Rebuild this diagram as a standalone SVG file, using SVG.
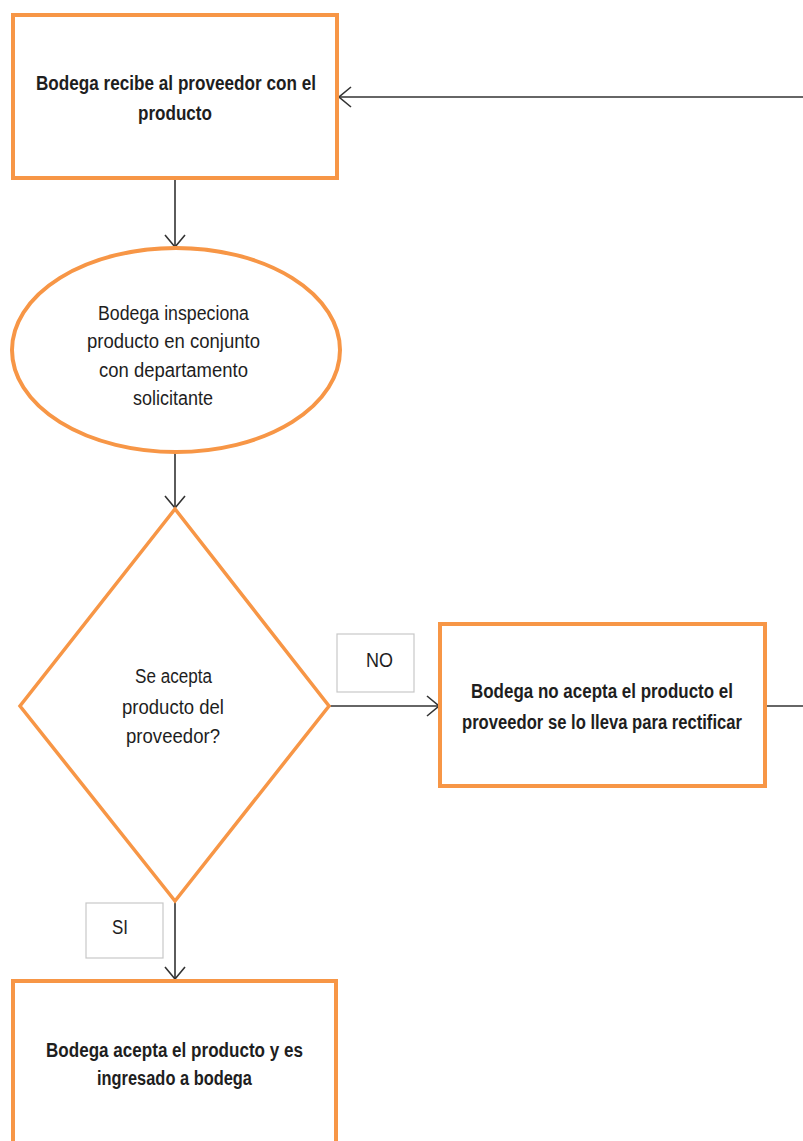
<svg xmlns="http://www.w3.org/2000/svg" width="803" height="1141" viewBox="0 0 803 1141">
  <defs>
    <style>
      .node { fill: #ffffff; stroke: #F79646; stroke-width: 4; }
      .dia { fill: #ffffff; stroke: #F79646; stroke-width: 3.5; }
      .lbl { fill: #ffffff; stroke: #c8c8c8; stroke-width: 1.2; }
      .conn { stroke: #333333; stroke-width: 1.6; fill: none; }
      .t { font-family: "Liberation Sans", Arial, sans-serif; fill: #1e1e1e; text-anchor: middle; }
      .b { font-weight: bold; font-size: 21px; }
      .n { font-size: 21px; }
    </style>
    <marker id="arr" markerUnits="userSpaceOnUse" markerWidth="14" markerHeight="22" viewBox="0 0 14 22" refX="13" refY="11" orient="auto">
      <path d="M1,1 L13,11 L1,21" fill="none" stroke="#333333" stroke-width="1.6"/>
    </marker>
  </defs>
  <rect width="803" height="1141" fill="#ffffff"/>

  <g id="connectors">
    <line class="conn" x1="803" y1="97" x2="339" y2="97" marker-end="url(#arr)"/>
    <line class="conn" x1="175" y1="179" x2="175" y2="247" marker-end="url(#arr)"/>
    <line class="conn" x1="175" y1="453" x2="175" y2="508" marker-end="url(#arr)"/>
    <line class="conn" x1="329" y1="706" x2="439" y2="706" marker-end="url(#arr)"/>
    <line class="conn" x1="766" y1="706" x2="803" y2="706"/>
    <line class="conn" x1="175" y1="901" x2="175" y2="979" marker-end="url(#arr)"/>
  </g>

  <g id="node-recibe">
    <rect class="node" x="13" y="15" width="324" height="163"/>
    <g transform="scale(0.78,1)">
      <text class="t b" x="225.64" y="90" textLength="358.97" lengthAdjust="spacingAndGlyphs">Bodega recibe al proveedor con el</text>
      <text class="t b" x="224.36" y="120" textLength="94.87" lengthAdjust="spacingAndGlyphs">producto</text>
    </g>
  </g>

  <g id="node-inspecciona">
    <ellipse class="node" cx="176" cy="350" rx="164" ry="102"/>
    <g transform="scale(0.78,1)">
      <text class="t n" x="222.44" y="320" textLength="193.59" lengthAdjust="spacingAndGlyphs">Bodega inspeciona</text>
      <text class="t n" x="222.44" y="348" textLength="221.79" lengthAdjust="spacingAndGlyphs">producto en conjunto</text>
      <text class="t n" x="222.44" y="377" textLength="191.03" lengthAdjust="spacingAndGlyphs">con departamento</text>
      <text class="t n" x="221.79" y="405" textLength="102.56" lengthAdjust="spacingAndGlyphs">solicitante</text>
    </g>
  </g>

  <g id="node-decision">
    <polygon class="dia" points="175,509 329,706 175,901 20,706"/>
    <g transform="scale(0.78,1)">
      <text class="t n" x="222.44" y="683" textLength="98.72" lengthAdjust="spacingAndGlyphs">Se acepta</text>
      <text class="t n" x="221.79" y="714" textLength="130.77" lengthAdjust="spacingAndGlyphs">producto del</text>
      <text class="t n" x="221.79" y="743" textLength="120.51" lengthAdjust="spacingAndGlyphs">proveedor?</text>
    </g>
  </g>

  <g id="label-no">
    <rect class="lbl" x="337" y="634" width="77" height="58"/>
    <g transform="scale(0.78,1)">
      <text class="t n" x="486.54" y="667" textLength="34.62" lengthAdjust="spacingAndGlyphs">NO</text>
    </g>
  </g>

  <g id="node-rechaza">
    <rect class="node" x="440" y="624" width="325" height="162"/>
    <g transform="scale(0.78,1)">
      <text class="t b" x="771.79" y="698" textLength="335.90" lengthAdjust="spacingAndGlyphs">Bodega no acepta el producto el</text>
      <text class="t b" x="771.79" y="729" textLength="358.97" lengthAdjust="spacingAndGlyphs">proveedor se lo lleva para rectificar</text>
    </g>
  </g>

  <g id="label-si">
    <rect class="lbl" x="86" y="903" width="77" height="55"/>
    <g transform="scale(0.78,1)">
      <text class="t n" x="153.85" y="934" textLength="20.51" lengthAdjust="spacingAndGlyphs">SI</text>
    </g>
  </g>

  <g id="node-acepta">
    <rect class="node" x="13" y="981" width="323" height="180"/>
    <g transform="scale(0.78,1)">
      <text class="t b" x="223.72" y="1057" textLength="329.49" lengthAdjust="spacingAndGlyphs">Bodega acepta el producto y es</text>
      <text class="t b" x="223.72" y="1085" textLength="198.72" lengthAdjust="spacingAndGlyphs">ingresado a bodega</text>
    </g>
  </g>
</svg>
